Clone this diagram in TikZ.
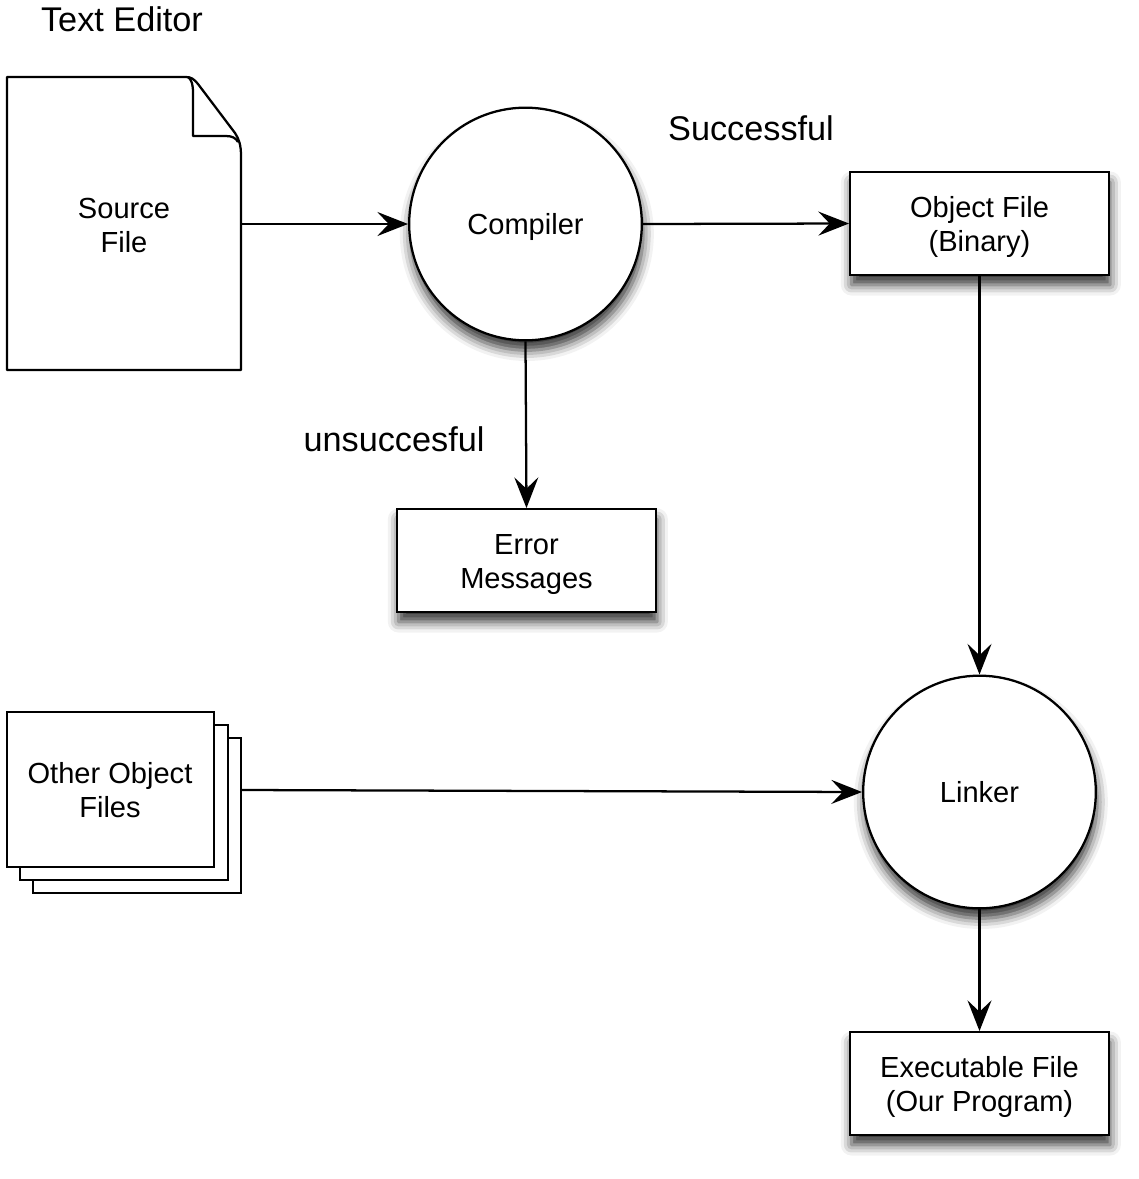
\documentclass[tikz,border=0pt]{standalone}
\usepackage{fontspec}
\setmainfont{Liberation Sans}
\usetikzlibrary{arrows.meta,shadows.blur}
\newcommand{\ndfont}{\fontsize{21.8}{25.5}\selectfont}
\newcommand{\lblfont}{\fontsize{25.7}{30}\selectfont}
\newcommand{\dn}[1]{\raisebox{-3pt}[\height][\depth]{\begin{tabular}{@{}c@{}}#1\end{tabular}}}
\begin{document}
\begin{tikzpicture}[x=0.75pt,y=-0.75pt,line width=1.7pt,
  shad/.style={blur shadow={shadow xshift=1pt,shadow yshift=-7.5pt,shadow blur radius=8pt,shadow opacity=80}},
  box/.style={draw,fill=white,minimum width=194pt,minimum height=77pt,align=center,font=\ndfont,inner sep=0pt,shad},
  proc/.style={draw,fill=white,circle,minimum size=174.5pt,align=center,font=\ndfont,inner sep=0pt,shad},
  plain/.style={align=center,font=\ndfont,inner sep=0pt},
  lbl/.style={font=\lblfont,inner sep=0pt},
  arr/.style={-{Stealth[length=23pt,width=18pt,inset=8.5pt]},line width=1.7pt}]
\useasboundingbox (0,0) rectangle (1139,1179);
% source file document shape
\draw[fill=white,line join=round] (7,77) -- (186,77) .. controls (191,77) and (194,79) .. (198,84) -- (235,133) .. controls (239,139) and (241,145) .. (241,156) -- (241,370) -- (7,370) -- cycle;
\draw[line join=round] (188,77) .. controls (192,80) and (193,85) .. (193,93) -- (193,136) -- (226,136) .. controls (232,136) and (236,138) .. (238,142);
\node[plain] (src) at (124,225) {\dn{Source\\File}};
\coordinate (srcE) at (241,224);
% other object files stack
\draw[fill=white] (33,738) rectangle (241,893);
\draw[fill=white] (20,725) rectangle (228,880);
\draw[fill=white] (7,712) rectangle (214,867);
\node[plain] (oth) at (110,790) {\dn{Other Object\\Files}};
\coordinate (othE) at (241,790);
% main nodes
\node[proc] (comp) at (525.5,224) {\dn{Compiler}};
\node[proc] (link) at (979.5,792) {\dn{Linker}};
\node[box] (obj) at (979.5,223.5) {\dn{Object File\\(Binary)}};
\node[box] (err) at (526.5,560.5) {\dn{Error\\Messages}};
\node[box] (exe) at (979.5,1083.5) {\dn{Executable File\\(Our Program)}};
% labels
\node[lbl] (ted) at (122,19) {Text Editor};
\node[lbl] (succ) at (751,128) {Successful};
\node[lbl] (unsucc) at (394,439) {unsuccesful};
% connectors
\draw[arr] (srcE) -- (comp.west);
\draw[arr] (comp.east) -- (obj.west);
\draw[arr] (comp.south) -- (err.north);
\draw[arr] (obj.south) -- (link.north);
\draw[arr] (othE) -- (link.west);
\draw[arr] (link.south) -- (exe.north);
\end{tikzpicture}
\end{document}
